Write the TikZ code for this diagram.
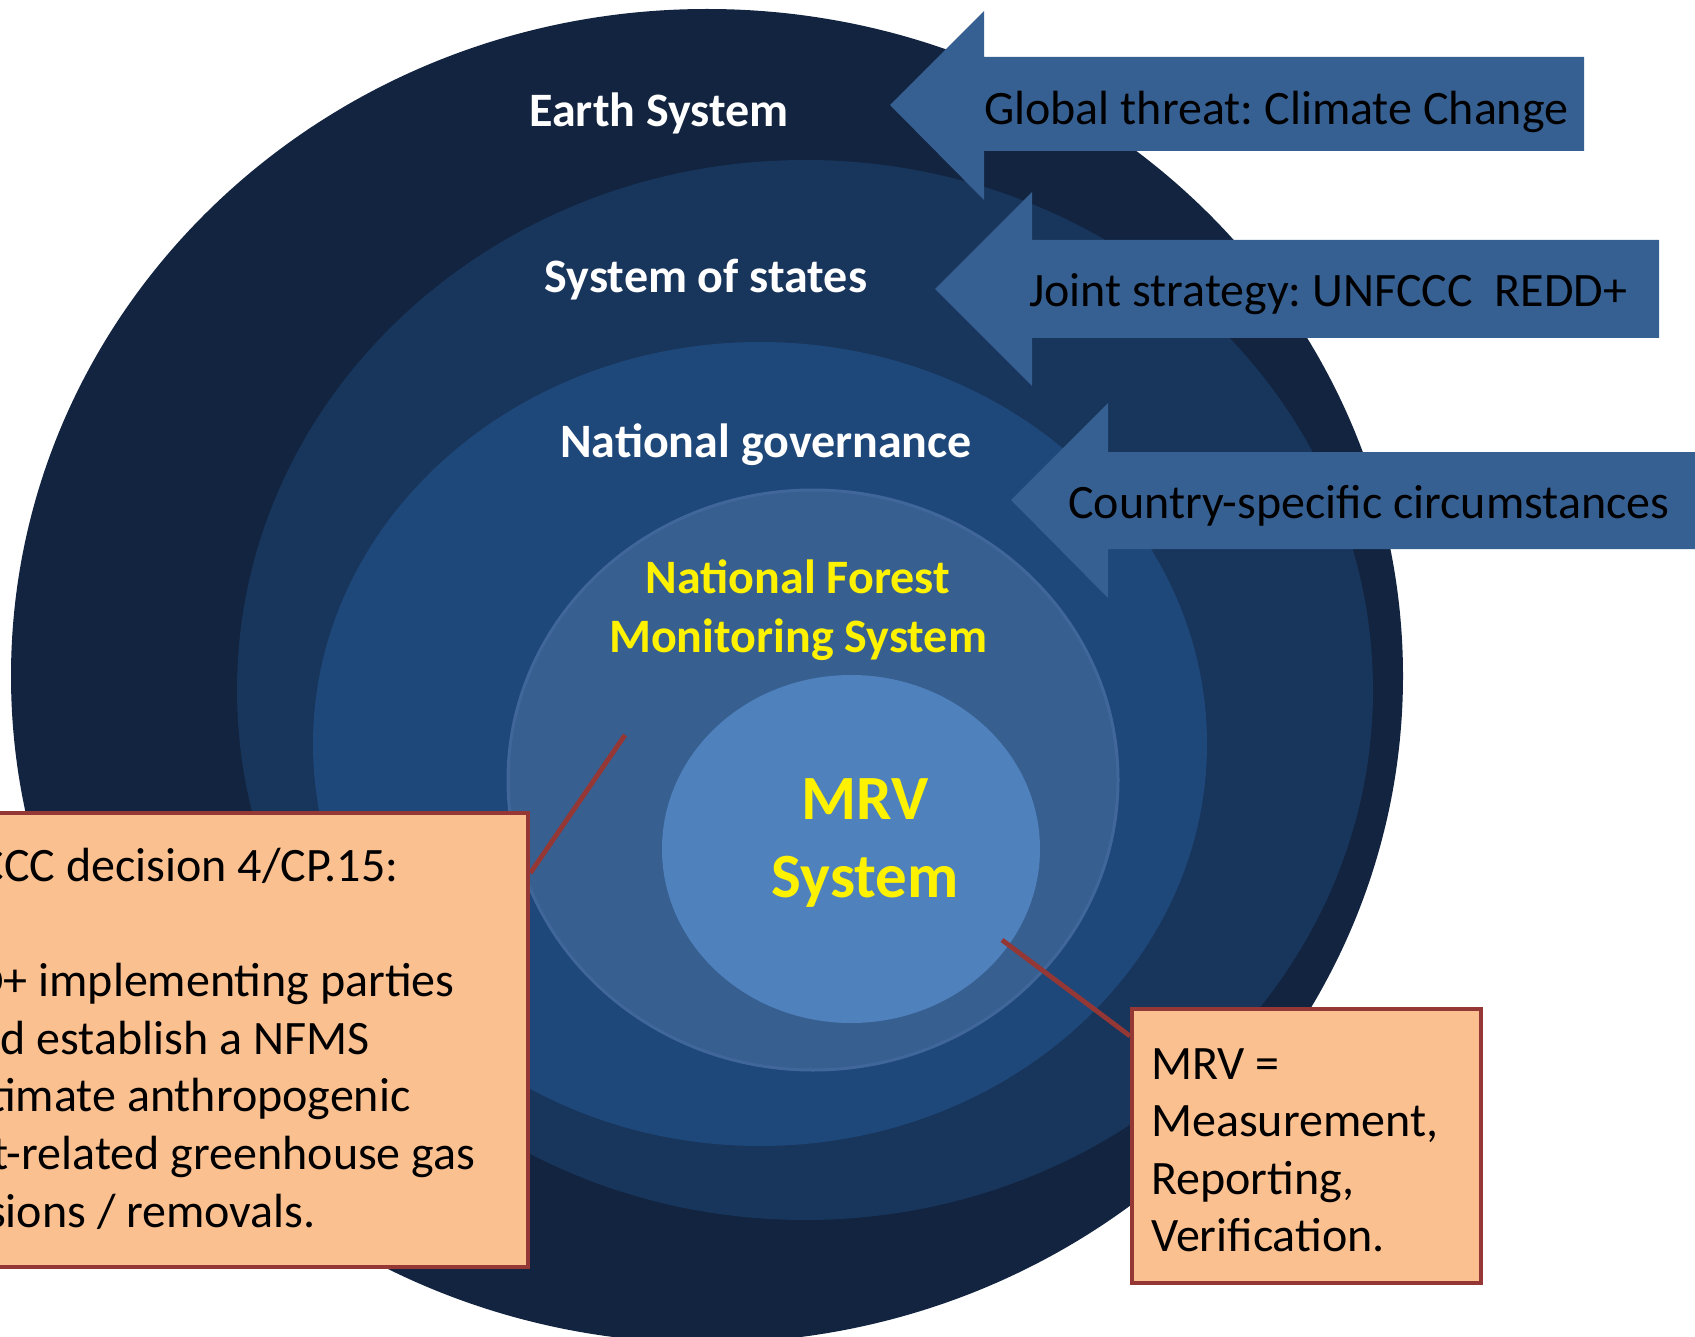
\documentclass[tikz,border=0pt]{standalone}
\usepackage{fontspec}
\setmainfont{Carlito}
\frenchspacing
\definecolor{ringA}{HTML}{12243F}
\definecolor{ringB}{HTML}{18355C}
\definecolor{ringC}{HTML}{1F487A}
\definecolor{ringD}{HTML}{375F90}
\definecolor{ringDrim}{HTML}{41679A}
\definecolor{ringE}{HTML}{4F81BD}
\definecolor{arrowblue}{HTML}{376092}
\definecolor{notefill}{HTML}{FAC090}
\definecolor{notedraw}{HTML}{953735}
\tikzset{
  ringlabel/.style={text=white, font=\fontsize{48pt}{58pt}\selectfont\bfseries\frenchspacing, inner sep=0pt},
  corelabel/.style={text=yellow, font=\fontsize{48pt}{59pt}\selectfont\bfseries\frenchspacing, align=center, inner sep=0pt},
  mrvlabel/.style={text=yellow, font=\fontsize{63pt}{78pt}\selectfont\bfseries\frenchspacing, align=center, inner sep=0pt},
  blockarrow/.style={fill=arrowblue},
  arrowtext/.style={font=\fontsize{48pt}{58pt}\selectfont\frenchspacing, text=black, anchor=west, inner sep=0pt},
  notebox/.style={draw=notedraw, fill=notefill, line width=4.3pt, inner sep=0pt, anchor=north west},
  notetext/.style={font=\fontsize{48pt}{57.6pt}\selectfont\frenchspacing, text=black, align=left, anchor=north west, inner sep=0pt},
  leader/.style={draw=notedraw, line width=4.8pt}
}
\begin{document}
\begin{tikzpicture}[x=1pt,y=-1pt]
\useasboundingbox (0,0) rectangle (1695,1337);
\clip (0,0) rectangle (1695,1337);
\fill[white] (0,0) rectangle (1695,1337);
% rings
\fill[ringA] (707,676) ellipse [x radius=696pt, y radius=667pt];
\fill[ringB] (805,690) ellipse [x radius=568pt, y radius=530pt];
\fill[ringC] (760,744) ellipse [x radius=447pt, y radius=402pt];
\fill[ringD, draw=ringDrim, line width=3pt] (813,780) ellipse [x radius=305pt, y radius=290pt];
\fill[ringE] (851,849) ellipse [x radius=189pt, y radius=174pt];
% ring labels
\node[ringlabel] (earth) at (659,113) {Earth System};
\node[ringlabel] (states) at (706,280) {System of states};
\node[ringlabel] (gov) at (766,445) {National governance};
\node[corelabel] (nfms) at (798,610) {National Forest\\Monitoring System};
\node[mrvlabel] (mrv) at (865,843) {MRV\\System};
% block arrows
\fill[blockarrow] (890,105) -- (984,11) -- (984,57) -- (1584,57) -- (1584,151) -- (984,151) -- (984,200) -- cycle;
\fill[blockarrow] (935,289) -- (1032,192) -- (1032,240) -- (1659,240) -- (1659,338) -- (1032,338) -- (1032,386) -- cycle;
\fill[blockarrow] (1011,500) -- (1108,403) -- (1108,452) -- (1720,452) -- (1720,549) -- (1108,549) -- (1108,598) -- cycle;
\node[arrowtext] (threat) at (984,112) {Global threat: Climate Change};
\node[arrowtext] (joint) at (1029,294) {Joint strategy: UNFCCC\ \ REDD+};
\node[arrowtext] (country) at (1068,506) {Country-specific circumstances};
% note boxes
\node[notebox, minimum width=647pt, minimum height=454pt] (lbox) at (-121,811) {};
\node[notetext] (ltext) at (-105,848) {UNFCCC decision 4/CP.15:\\[57.6pt]REDD+ implementing parties\\should establish a NFMS\\to estimate anthropogenic\\forest-related greenhouse gas\\emissions / removals.};
\node[notebox, minimum width=349pt, minimum height=274pt] (rbox) at (1130,1007) {};
\node[notetext] (rtext) at (1151,1048) {MRV =\\Measurement,\\Reporting,\\Verification.};
% leader lines
\coordinate (lpin) at (625,735);
\coordinate (rpin) at (1002,940);
\draw[leader] (lpin) -- ([yshift=-62pt]lbox.north east);
\draw[leader] (rpin) -- ([yshift=-29pt]rbox.north west);
\end{tikzpicture}
\end{document}
